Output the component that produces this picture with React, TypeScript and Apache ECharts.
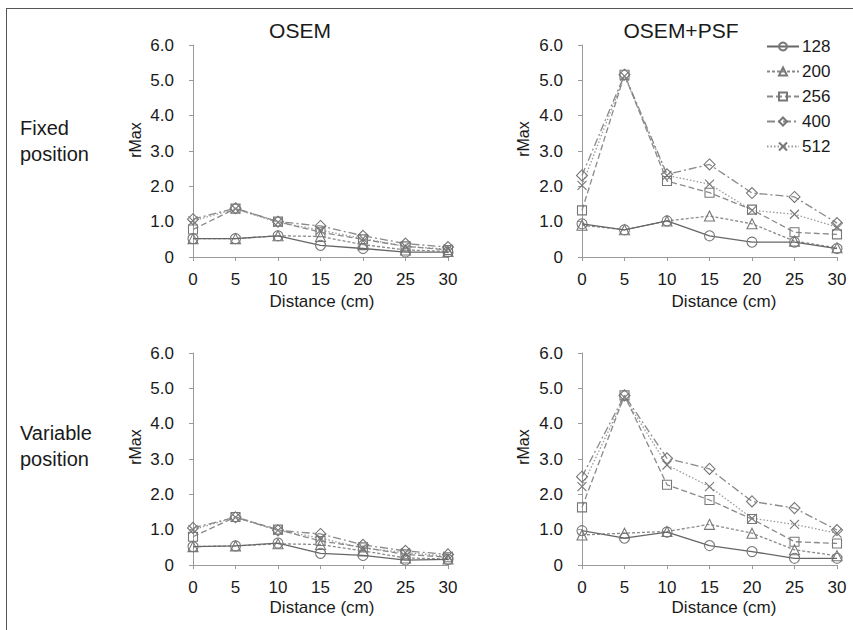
import React, { useEffect, useRef } from "react";
import * as echarts from "echarts";

// ---------- data ----------
const distances = [0, 5, 10, 15, 20, 25, 30];
const matrixSizes = ["128", "200", "256", "400", "512"];
const panelTitles = ["OSEM", "OSEM+PSF"];
const rowLabels = [["Fixed", "position"], ["Variable", "position"]];

// OSEM, fixed position
const osemFixed128 = [0.52, 0.52, 0.6, 0.33, 0.24, 0.14, 0.14];
const osemFixed200 = [0.52, 0.52, 0.6, 0.58, 0.35, 0.2, 0.16];
const osemFixed256 = [0.78, 1.37, 1.0, 0.7, 0.5, 0.3, 0.2];
const osemFixed400 = [1.07, 1.38, 1.0, 0.88, 0.6, 0.38, 0.28];
const osemFixed512 = [1.02, 1.36, 0.98, 0.76, 0.52, 0.3, 0.22];

// OSEM+PSF, fixed position
const psfFixed128 = [0.94, 0.77, 1.02, 0.6, 0.42, 0.42, 0.24];
const psfFixed200 = [0.9, 0.77, 1.02, 1.16, 0.94, 0.45, 0.26];
const psfFixed256 = [1.32, 5.16, 2.15, 1.82, 1.34, 0.7, 0.64];
const psfFixed400 = [2.31, 5.16, 2.34, 2.62, 1.81, 1.7, 0.96];
const psfFixed512 = [2.03, 5.12, 2.31, 2.06, 1.32, 1.21, 0.85];

// OSEM, variable position
const osemVar128 = [0.52, 0.54, 0.62, 0.33, 0.27, 0.14, 0.16];
const osemVar200 = [0.52, 0.54, 0.6, 0.58, 0.4, 0.2, 0.17];
const osemVar256 = [0.8, 1.36, 1.0, 0.68, 0.5, 0.3, 0.22];
const osemVar400 = [1.05, 1.35, 0.98, 0.88, 0.57, 0.4, 0.3];
const osemVar512 = [1.0, 1.35, 0.98, 0.76, 0.48, 0.35, 0.25];

// OSEM+PSF, variable position
const psfVar128 = [0.97, 0.76, 0.93, 0.55, 0.38, 0.19, 0.19];
const psfVar200 = [0.85, 0.9, 0.95, 1.15, 0.9, 0.43, 0.26];
const psfVar256 = [1.63, 4.8, 2.27, 1.84, 1.3, 0.66, 0.61];
const psfVar400 = [2.5, 4.8, 3.02, 2.72, 1.8, 1.61, 0.99];
const psfVar512 = [2.22, 4.74, 2.83, 2.22, 1.32, 1.15, 0.9];

const panelData = [
  [osemFixed128, osemFixed200, osemFixed256, osemFixed400, osemFixed512],
  [psfFixed128, psfFixed200, psfFixed256, psfFixed400, psfFixed512],
  [osemVar128, osemVar200, osemVar256, osemVar400, osemVar512],
  [psfVar128, psfVar200, psfVar256, psfVar400, psfVar512],
];

// ---------- styling ----------
const FONT = "'Liberation Sans', Arial, sans-serif";
const TEXT = "#1a1a1a";
const AXIS = "#9a9a9a";

const seriesStyles = [
  { symbol: "circle", size: 10, dash: "solid" as any, color: "#666" },
  { symbol: "triangle", size: 10, dash: [3, 2], color: "#8a8a8a" },
  { symbol: "rect", size: 9, dash: [6, 3], color: "#8a8a8a" },
  { symbol: "diamond", size: 11, dash: [8, 3, 2, 3], color: "#8a8a8a" },
  { symbol: "path://M0,0L10,10M10,0L0,10", size: 9, dash: [1.5, 2], color: "#9a9a9a" },
];

const grids = [
  { left: 193, top: 45, width: 255, height: 212 },
  { left: 582, top: 45, width: 255, height: 212 },
  { left: 193, top: 353, width: 255, height: 212 },
  { left: 582, top: 353, width: 255, height: 212 },
];

export default function App() {
  const ref = useRef<HTMLDivElement>(null);

  useEffect(() => {
    if (!ref.current) return;
    const chart = echarts.init(ref.current, undefined, { renderer: "svg" });

    const xAxes = grids.map((_, i) => ({
      type: "value",
      gridIndex: i,
      min: 0,
      max: 30,
      interval: 5,
      axisLine: { show: true, lineStyle: { color: AXIS, width: 1 } },
      axisTick: { show: true, length: 4, lineStyle: { color: AXIS } },
      splitLine: { show: false },
      axisLabel: { color: TEXT, fontSize: 17, fontFamily: FONT, margin: 14 },
    }));

    const yAxes = grids.map((_, i) => ({
      type: "value",
      gridIndex: i,
      min: 0,
      max: 6,
      interval: 1,
      axisLine: { show: true, lineStyle: { color: AXIS, width: 1 } },
      axisTick: { show: true, length: 4, lineStyle: { color: AXIS } },
      splitLine: { show: false },
      axisLabel: {
        color: TEXT,
        fontSize: 17,
        fontFamily: FONT,
        margin: 19,
        formatter: (v: number) => (v === 0 ? "0" : v.toFixed(1)),
      },
    }));

    const series: any[] = [];
    panelData.forEach((panel, gi) => {
      panel.forEach((vals, si) => {
        const st = seriesStyles[si];
        series.push({
          name: matrixSizes[si],
          type: "line",
          xAxisIndex: gi,
          yAxisIndex: gi,
          data: distances.map((d, k) => [d, vals[k]]),
          symbol: st.symbol,
          symbolSize: st.size,
          showAllSymbol: true,
          lineStyle: { color: st.color, width: 1.3, type: st.dash },
          itemStyle: { color: "rgba(255,255,255,0)", borderColor: "#777", borderWidth: 1.1 },
          emphasis: { disabled: true },
          z: 10 - si,
        });
      });
    });

    const graphics: any[] = [
      { type: "line", shape: { x1: 6, y1: 8.5, x2: 853, y2: 8.5 }, style: { stroke: "#555", lineWidth: 1 } },
      { type: "line", shape: { x1: 6.5, y1: 8, x2: 6.5, y2: 630 }, style: { stroke: "#555", lineWidth: 1 } },
    ];
    // panel titles
    const titleX = [300, 681];
    panelTitles.forEach((t, i) => {
      graphics.push({
        type: "text",
        x: titleX[i],
        y: 30,
        style: { text: t, fontSize: 21, fontFamily: FONT, fill: TEXT, textAlign: "center", textVerticalAlign: "middle" },
      });
    });
    // row labels
    const rowY = [128, 433];
    rowLabels.forEach((lines, r) => {
      lines.forEach((ln, k) => {
        graphics.push({
          type: "text",
          x: 20,
          y: rowY[r] + k * 26,
          style: { text: ln, fontSize: 20, fontFamily: FONT, fill: TEXT, textAlign: "left", textVerticalAlign: "middle" },
        });
      });
    });
    // axis titles
    const rmaxPos = [
      [135, 140],
      [523, 139],
      [135, 447],
      [523, 447],
    ];
    rmaxPos.forEach(([x, y]) => {
      graphics.push({
        type: "text",
        x,
        y,
        rotation: Math.PI / 2,
        style: { text: "rMax", fontSize: 16, fontFamily: FONT, fill: TEXT, textAlign: "center", textVerticalAlign: "middle" },
      });
    });
    const distPos = [
      [322, 301],
      [724, 301],
      [322, 607],
      [724, 607],
    ];
    distPos.forEach(([x, y]) => {
      graphics.push({
        type: "text",
        x,
        y,
        style: { text: "Distance (cm)", fontSize: 17, fontFamily: FONT, fill: TEXT, textAlign: "center", textVerticalAlign: "middle" },
      });
    });

    chart.setOption({
      animation: false,
      backgroundColor: "#ffffff",
      grid: grids,
      xAxis: xAxes,
      yAxis: yAxes,
      legend: {
        show: true,
        orient: "vertical",
        left: 766,
        top: 38,
        padding: 0,
        itemWidth: 32,
        itemHeight: 10,
        itemGap: 8,
        data: matrixSizes,
        selectedMode: false,
        textStyle: { fontSize: 17, fontFamily: FONT, color: TEXT, padding: [0, 0, 0, -2] },
      },
      series,
      graphic: graphics,
    });

    return () => chart.dispose();
  }, []);

  return (
    <div
      ref={ref}
      style={{ position: "absolute", left: 0, top: 0, width: 853, height: 630 }}
    />
  );
}
